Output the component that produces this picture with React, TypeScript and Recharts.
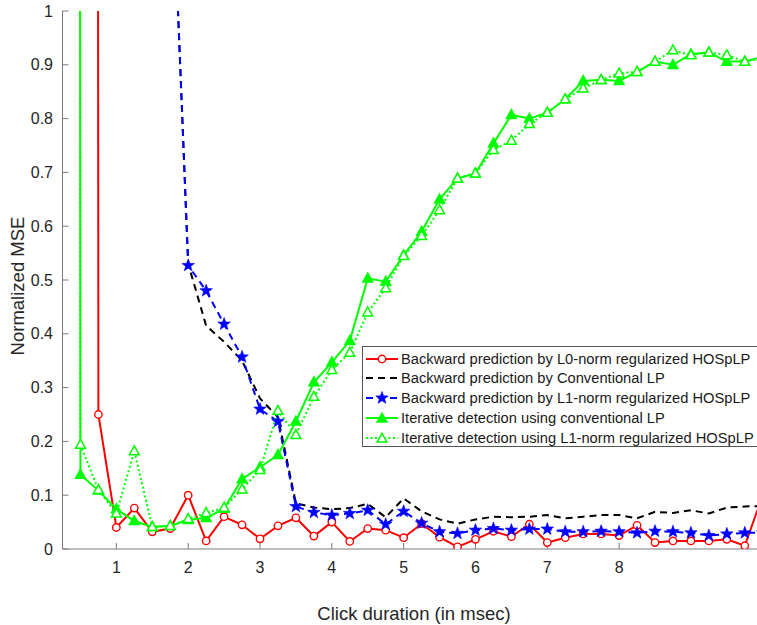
import React from 'react';
import { LineChart, Line, XAxis, YAxis, Legend } from 'recharts';

const xValues = [0.25, 0.5, 0.75, 1, 1.25, 1.5, 1.75, 2, 2.25, 2.5, 2.75, 3, 3.25, 3.5, 3.75, 4, 4.25, 4.5, 4.75, 5, 5.25, 5.5, 5.75, 6, 6.25, 6.5, 6.75, 7, 7.25, 7.5, 7.75, 8, 8.25, 8.5, 8.75, 9, 9.25, 9.5, 9.75, 10];

const l0Hosplp = [null, 40, 0.25, 0.04, 0.076, 0.032, 0.038, 0.1, 0.015, 0.06, 0.045, 0.019, 0.043, 0.058, 0.024, 0.05, 0.014, 0.038, 0.035, 0.021, 0.047, 0.022, 0.004, 0.018, 0.033, 0.023, 0.046, 0.012, 0.021, 0.028, 0.028, 0.025, 0.044, 0.012, 0.015, 0.015, 0.015, 0.018, 0.006, 0.1];

const conventionalLp = [null, null, null, null, null, null, 1.36, 0.53, 0.415, 0.385, 0.35, 0.28, 0.245, 0.085, 0.077, 0.074, 0.076, 0.084, 0.059, 0.094, 0.07, 0.055, 0.047, 0.055, 0.06, 0.059, 0.06, 0.063, 0.057, 0.06, 0.063, 0.063, 0.057, 0.069, 0.067, 0.072, 0.066, 0.077, 0.079, 0.08];

const l1Hosplp = [null, null, null, null, null, null, 1.36, 0.527, 0.48, 0.418, 0.357, 0.26, 0.237, 0.079, 0.068, 0.063, 0.066, 0.072, 0.046, 0.07, 0.048, 0.032, 0.029, 0.035, 0.038, 0.035, 0.037, 0.037, 0.032, 0.032, 0.033, 0.032, 0.03, 0.033, 0.032, 0.03, 0.025, 0.028, 0.03, 0.03];

const iterConventional = [40, 0.138, 0.109, 0.074, 0.052, 0.041, 0.043, 0.054, 0.058, 0.075, 0.13, 0.152, 0.175, 0.237, 0.31, 0.347, 0.387, 0.503, 0.497, 0.546, 0.59, 0.65, 0.689, 0.698, 0.754, 0.807, 0.8, 0.811, 0.836, 0.87, 0.872, 0.87, 0.887, 0.906, 0.9, 0.92, 0.923, 0.906, 0.906, 0.915];

const iterL1 = [40, 0.194, 0.11, 0.066, 0.182, 0.041, 0.043, 0.056, 0.067, 0.077, 0.111, 0.147, 0.257, 0.212, 0.283, 0.333, 0.365, 0.44, 0.485, 0.545, 0.582, 0.63, 0.689, 0.698, 0.742, 0.759, 0.79, 0.811, 0.836, 0.856, 0.872, 0.884, 0.887, 0.906, 0.927, 0.918, 0.923, 0.918, 0.906, 0.912];

const xTicks = [1, 2, 3, 4, 5, 6, 7, 8];
const yTicks = [0, 0.1, 0.2, 0.3, 0.4, 0.5, 0.6, 0.7, 0.8, 0.9, 1];
const yTickLabels = ['0', '0.1', '0.2', '0.3', '0.4', '0.5', '0.6', '0.7', '0.8', '0.9', '1'];

const seriesNames = [
  'Backward prediction by L0-norm regularized HOSpLP',
  'Backward prediction by Conventional LP',
  'Backward prediction by L1-norm regularized HOSpLP',
  'Iterative detection using conventional LP',
  'Iterative detection using L1-norm regularized HOSpLP',
];

const data = xValues.map((x, i) => ({
  x,
  l0: l0Hosplp[i],
  conv: conventionalLp[i],
  l1: l1Hosplp[i],
  itc: iterConventional[i],
  itl1: iterL1[i],
}));

const FONT = '"Liberation Sans", Arial, Helvetica, sans-serif';
const AXIS = '#7a7a7a';
const TEXT = '#262626';
const RED = '#ff0000';
const BLUE = '#0000ff';
const GREEN = '#00ff00';
const DASH = '7 5';
const DOT = '2 2.5';

const inRange = (v: any) => v !== null && v !== undefined && v >= 0 && v <= 1.001;

const starPts = (cx: number, cy: number, R: number, r: number) => {
  const pts: string[] = [];
  for (let k = 0; k < 10; k++) {
    const a = -Math.PI / 2 + (k * Math.PI) / 5;
    const rad = k % 2 === 0 ? R : r;
    pts.push(`${cx + rad * Math.cos(a)},${cy + rad * Math.sin(a)}`);
  }
  return pts.join(' ');
};

const Circle = ({ cx, cy }: { cx: number; cy: number }) => (
  <circle cx={cx} cy={cy} r={3.7} fill="#fff" stroke={RED} strokeWidth={1.4} />
);
const Star = ({ cx, cy }: { cx: number; cy: number }) => (
  <polygon points={starPts(cx, cy, 6.6, 2.7)} fill={BLUE} stroke={BLUE} strokeWidth={0.6} />
);
const Tri = ({ cx, cy, filled }: { cx: number; cy: number; filled: boolean }) => (
  <polygon
    points={`${cx},${cy - 5.3} ${cx - 4.9},${cy + 3.6} ${cx + 4.9},${cy + 3.6}`}
    fill={filled ? GREEN : '#fff'}
    stroke={GREEN}
    strokeWidth={1.5}
  />
);

const makeDot = (kind: string) => (p: any) => {
  const { cx, cy, value, index } = p;
  const key = `${kind}-${index}`;
  if (!inRange(value) || cx == null || cy == null) return <g key={key} />;
  if (kind === 'circle') return <g key={key}><Circle cx={cx} cy={cy} /></g>;
  if (kind === 'star') return <g key={key}><Star cx={cx} cy={cy} /></g>;
  if (kind === 'triF') return <g key={key}><Tri cx={cx} cy={cy} filled /></g>;
  return <g key={key}><Tri cx={cx} cy={cy} filled={false} /></g>;
};

const legendItems = [
  { name: seriesNames[0], color: RED, dash: undefined, marker: 'circle' },
  { name: seriesNames[1], color: '#000', dash: DASH, marker: 'none' },
  { name: seriesNames[2], color: BLUE, dash: DASH, marker: 'star' },
  { name: seriesNames[3], color: GREEN, dash: undefined, marker: 'triF' },
  { name: seriesNames[4], color: GREEN, dash: DOT, marker: 'triO' },
];

const LegendContent = () => (
  <div
    style={{
      width: 410,
      height: 101,
      border: '1px solid #555',
      background: '#fff',
      boxSizing: 'border-box',
      position: 'relative',
      fontFamily: FONT,
      fontSize: 14.7,
      color: '#1a1a1a',
    }}
  >
    {legendItems.map((it, i) => (
      <div
        key={i}
        style={{ position: 'absolute', left: 0, top: 1.5 + i * 19.8, height: 20, display: 'flex', alignItems: 'center' }}
      >
        <svg width={38} height={20} style={{ display: 'block' }}>
          <line x1={3} y1={10} x2={35} y2={10} stroke={it.color} strokeWidth={2} strokeDasharray={it.dash} />
          {it.marker === 'circle' && <Circle cx={19} cy={10} />}
          {it.marker === 'star' && <Star cx={19} cy={10} />}
          {it.marker === 'triF' && <Tri cx={19} cy={10.5} filled />}
          {it.marker === 'triO' && <Tri cx={19} cy={10.5} filled={false} />}
        </svg>
        <span style={{ whiteSpace: 'nowrap', lineHeight: '20px' }}>{it.name}</span>
      </div>
    ))}
  </div>
);

const YLabel = () => (
  <text
    x={24}
    y={286}
    transform="rotate(-90 24 286)"
    textAnchor="middle"
    fontFamily={FONT}
    fontSize={18.5}
    fill={TEXT}
  >
    Normalized MSE
  </text>
);

const XLabel = () => (
  <text x={414} y={620} textAnchor="middle" fontFamily={FONT} fontSize={18.5} fill={TEXT}>
    Click duration (in msec)
  </text>
);

export default function App() {
  return (
    <div style={{ position: 'absolute', left: 0, top: 0, width: 757, height: 625, overflow: 'hidden', background: '#fff' }}>
      <LineChart width={757} height={625} data={data} margin={{ top: 11, right: 0, bottom: 0, left: 0 }}>
        <XAxis
          dataKey="x"
          type="number"
          domain={[0.25, 9.92]}
          allowDataOverflow
          ticks={xTicks}
          height={76}
          stroke={AXIS}
          tickSize={-6}
          tickMargin={19}
          tick={{ fill: TEXT, fontSize: 16, fontFamily: FONT }}
          label={<XLabel />}
        />
        <XAxis
          xAxisId="top"
          orientation="top"
          dataKey="x"
          type="number"
          domain={[0.25, 9.92]}
          allowDataOverflow
          ticks={xTicks}
          height={0}
          stroke={AXIS}
          tickSize={-6}
          tick={false}
        />
        <YAxis
          type="number"
          domain={[0, 1]}
          allowDataOverflow
          ticks={yTicks}
          width={62.5}
          stroke={AXIS}
          tickSize={-6}
          tickMargin={15.5}
          tickFormatter={(v: number) => yTickLabels[yTicks.indexOf(v)] ?? String(v)}
          tick={{ fill: TEXT, fontSize: 16, fontFamily: FONT }}
          label={<YLabel />}
        />
        <YAxis
          yAxisId="r"
          orientation="right"
          type="number"
          domain={[0, 1]}
          allowDataOverflow
          ticks={yTicks}
          width={0}
          stroke={AXIS}
          tickSize={-6}
          tick={false}
        />
        <Legend
          layout="vertical"
          align="center"
          verticalAlign="middle"
          wrapperStyle={{ position: 'absolute', left: 362, top: 346, width: 410, height: 101 }}
          content={<LegendContent />}
        />
        <Line
          dataKey="l0"
          name={seriesNames[0]}
          stroke={RED}
          strokeWidth={2}
          dot={makeDot('circle')}
          activeDot={false}
          isAnimationActive={false}
        />
        <Line
          dataKey="conv"
          name={seriesNames[1]}
          stroke="#000"
          strokeWidth={2}
          strokeDasharray={DASH}
          dot={false}
          activeDot={false}
          isAnimationActive={false}
        />
        <Line
          dataKey="l1"
          name={seriesNames[2]}
          stroke={BLUE}
          strokeWidth={2}
          strokeDasharray={DASH}
          dot={makeDot('star')}
          activeDot={false}
          isAnimationActive={false}
        />
        <Line
          dataKey="itc"
          name={seriesNames[3]}
          stroke={GREEN}
          strokeWidth={2}
          dot={makeDot('triF')}
          activeDot={false}
          isAnimationActive={false}
        />
        <Line
          dataKey="itl1"
          name={seriesNames[4]}
          stroke={GREEN}
          strokeWidth={2}
          strokeDasharray={DOT}
          dot={makeDot('triO')}
          activeDot={false}
          isAnimationActive={false}
        />
      </LineChart>
    </div>
  );
}
